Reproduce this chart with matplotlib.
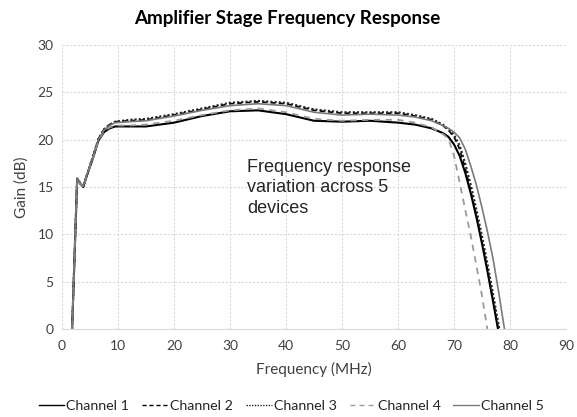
import matplotlib
matplotlib.use('Agg')
from matplotlib import pyplot as plt

# frequency points (MHz)
freq = [1.8, 2.7, 3.3, 3.8, 4.5, 5.5, 6.5, 7.5, 8.5, 9.5,
        12, 15, 20, 25, 30, 35, 40, 45, 50, 55, 60,
        63, 66, 68, 69, 70, 71, 72, 73, 74, 75, 76, 77, 78, 79, 80]

channel_1 = [0, 15.8, 15.3, 15.0, 16.3, 18.0, 19.9, 20.8, 21.2, 21.4,
             21.4, 21.4, 21.8, 22.5, 23.0, 23.1, 22.7, 22.0, 21.9, 22.0, 21.8,
             21.6, 21.2, 20.7, 20.3, 19.5, 18.3, 16.5, 14.3, 11.8, 9.0, 6.0, 2.8, -0.5, -4, -7]
channel_2 = [0, 15.9, 15.4, 15.1, 16.4, 18.2, 20.1, 21.1, 21.6, 21.9,
             22.0, 22.1, 22.6, 23.2, 23.8, 24.0, 23.8, 23.1, 22.8, 22.8, 22.8,
             22.5, 22.1, 21.5, 21.0, 20.3, 19.0, 17.0, 14.6, 12.0, 9.2, 6.2, 3.0, -0.3, -4, -7]
channel_3 = [0, 15.9, 15.4, 15.1, 16.4, 18.2, 20.1, 21.1, 21.6, 21.9,
             22.1, 22.2, 22.7, 23.3, 23.9, 24.1, 23.9, 23.2, 22.9, 22.9, 22.9,
             22.6, 22.2, 21.6, 21.1, 20.5, 19.4, 17.5, 15.2, 12.6, 9.8, 6.8, 3.6, 0.3, -3, -6]
channel_4 = [0, 15.8, 15.3, 15.0, 16.3, 18.0, 19.9, 20.9, 21.3, 21.5,
             21.5, 21.6, 22.0, 22.6, 23.1, 23.3, 22.9, 22.2, 22.0, 22.1, 22.1,
             21.8, 21.3, 20.6, 20.1, 18.3, 15.5, 12.6, 9.8, 6.7, 3.5, -0.2, -4, -7, -10, -13]
channel_5 = [0, 15.9, 15.4, 15.1, 16.4, 18.1, 20.0, 21.0, 21.5, 21.8,
             21.9, 22.0, 22.5, 23.1, 23.6, 23.8, 23.6, 22.9, 22.6, 22.7, 22.6,
             22.4, 22.0, 21.5, 21.2, 20.8, 20.2, 19.0, 17.2, 15.2, 12.8, 10.2, 7.3, 3.8, 0.0, -3.5]

channels = ['Channel 1', 'Channel 2', 'Channel 3', 'Channel 4', 'Channel 5']

plt.rcParams['font.family'] = ['Lato', 'DejaVu Sans']

fig = plt.figure(figsize=(5.77, 4.17), dpi=100)
ax = fig.add_axes([0.1075, 0.211, 0.8735, 0.681])

ax.plot(freq, channel_1, color='black', linewidth=1.5, label=channels[0])
ax.plot(freq, channel_2, color='black', linewidth=1.2, dashes=(3, 2), label=channels[1])
ax.plot(freq, channel_3, color='#222222', linewidth=1.5, dashes=(1, 1), label=channels[2])
ax.plot(freq, channel_4, color='#9a9a9a', linewidth=1.3, dashes=(3.5, 3), label=channels[3])
ax.plot(freq, channel_5, color='#7a7a7a', linewidth=1.2, label=channels[4])

ax.set_xlim(0, 90)
ax.set_ylim(0, 30)
ax.set_xticks(range(0, 91, 10))
ax.set_yticks(range(0, 31, 5))

ax.grid(True, color='#d9d9d9', linestyle=(0, (2, 1.5)), linewidth=0.8)
ax.set_axisbelow(True)
for side in ['top', 'right', 'left']:
    ax.spines[side].set_visible(False)
ax.spines['bottom'].set_color('#d9d9d9')
ax.tick_params(axis='both', length=0, labelsize=10, colors='#404040', pad=6)
ax.tick_params(axis='x', pad=8)

ax.set_xlabel('Frequency (MHz)', fontsize=11, color='#404040', labelpad=7)
ax.set_ylabel('Gain (dB)', fontsize=11, color='#404040', labelpad=6)

fig.text(0.497, 0.955, 'Amplifier Stage Frequency Response', ha='center', va='center',
         fontsize=13.5, fontweight='bold', color='black')

ax.text(33, 14.9, 'Frequency response\nvariation across 5\ndevices', ha='left', va='center',
        fontsize=13, color='#262626', family=['Liberation Sans', 'DejaVu Sans'], linespacing=1.3)

leg = fig.legend(loc='center', bbox_to_anchor=(0.505, 0.027), ncol=5, frameon=False,
                 fontsize=10.3, handlelength=1.8, handletextpad=0.15, columnspacing=0.9,
                 labelcolor='#262626')
for line in leg.get_lines():
    line.set_linewidth(1.0)

fig.savefig('out.png', dpi=100)
